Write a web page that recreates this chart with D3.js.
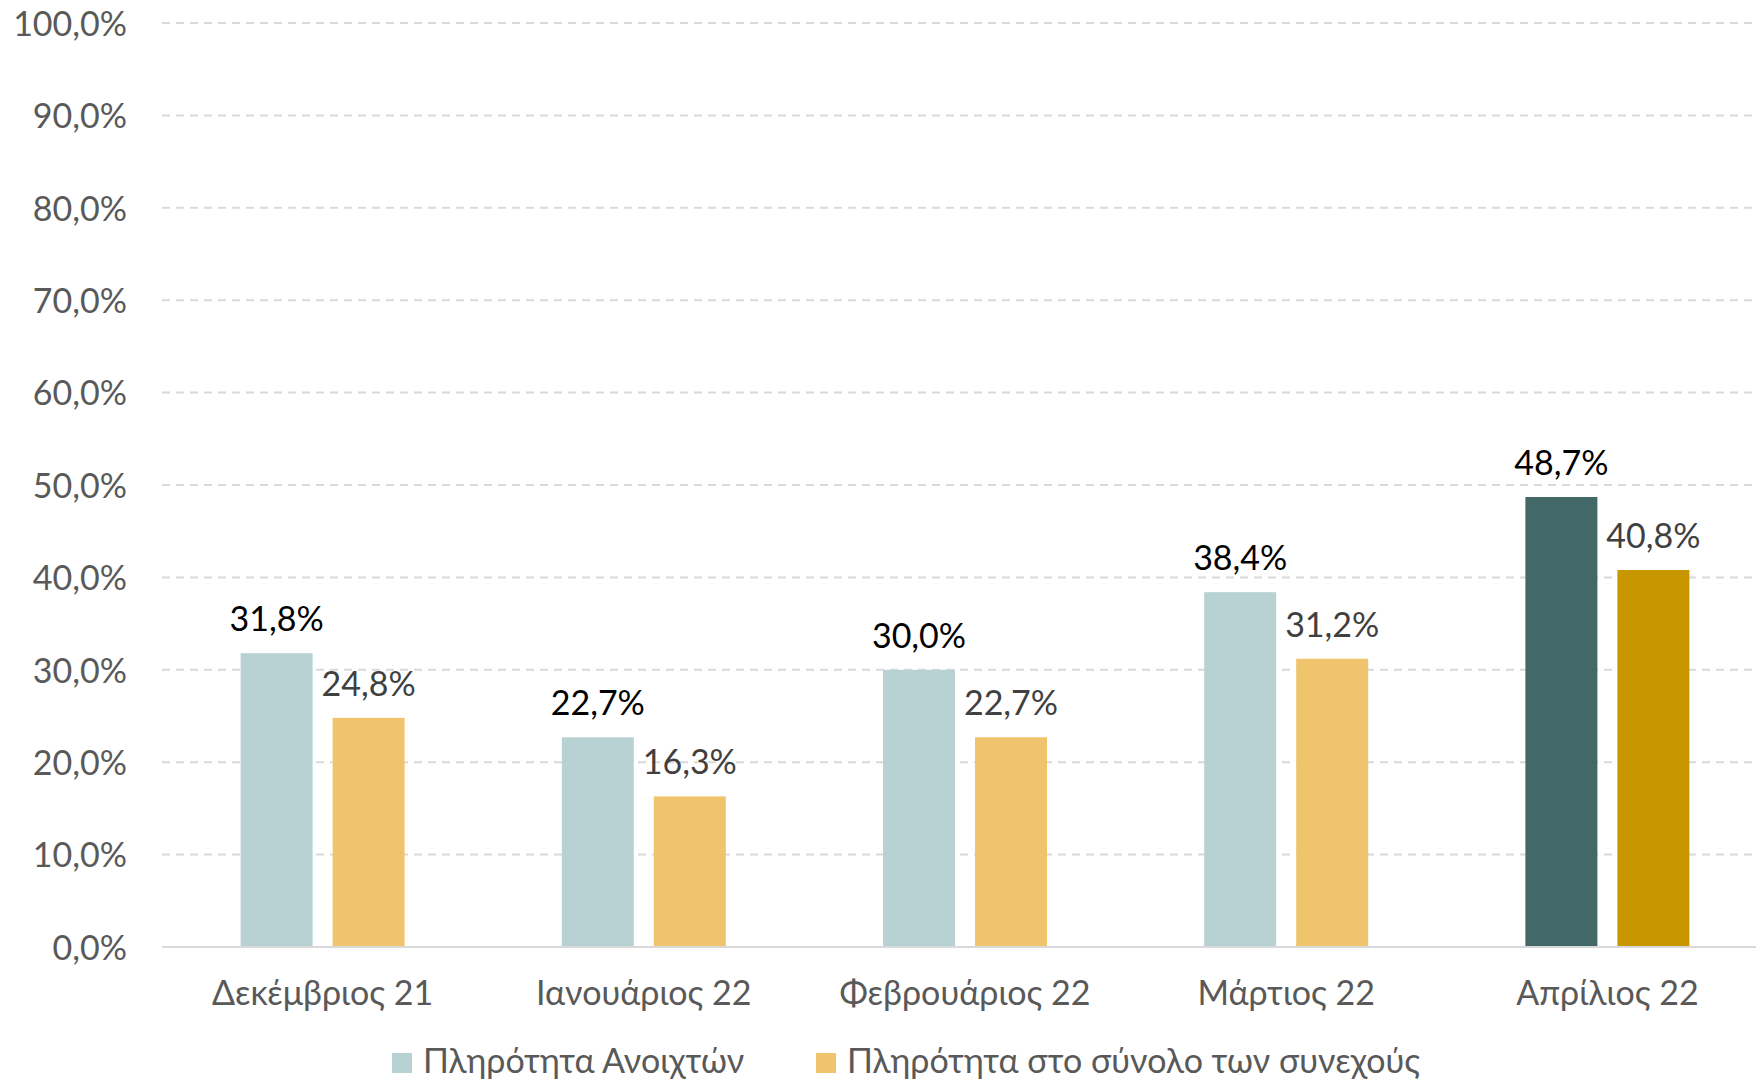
<!DOCTYPE html>
<html><head><meta charset="utf-8">
<script src="https://cdn.jsdelivr.net/npm/d3@7"></script>
<style>body{margin:0;background:#fff}svg{display:block}text{font-family:Lato,"Noto Sans",sans-serif}</style>
</head><body><svg id="c" width="1756" height="1082"></svg>
<script>
const categories = ["Δεκέμβριος 21","Ιανουάριος 22","Φεβρουάριος 22","Μάρτιος 22","Απρίλιος 22"];
const seriesNames = ["Πληρότητα Ανοιχτών","Πληρότητα στο σύνολο των συνεχούς"];
const openValues = [31.8,22.7,30.0,38.4,48.7];
const totalValues = [24.8,16.3,22.7,31.2,40.8];
const yTicks = [0,10,20,30,40,50,60,70,80,90,100];

const colorsNormal = ["#B8D1D2","#F0C36D"];
const colorsHighlight = ["#436868","#C89700"];
const labelColors = ["#000000","#404040"];

(function(){
const svg = d3.select("#c");
const pLeft = 162, pRight = 1768, pTop = 23, pBottom = 947;
const fs = 34;
const x = d3.scaleBand().domain(categories).range([pLeft, pRight]);
const y = d3.scaleLinear().domain([0,100]).range([pBottom, pTop]);
const fmt = v => d3.format(".1f")(v).replace(".", ",") + "%";

// gridlines
svg.append("g").selectAll("line").data(yTicks.filter(t=>t>0)).join("line")
  .attr("x1", pLeft).attr("x2", 1756).attr("y1", d=>y(d)).attr("y2", d=>y(d))
  .attr("stroke","#D9D9D9").attr("stroke-width",2).attr("stroke-dasharray","8,6");

// y axis labels
const yAxis = d3.axisLeft(y).tickValues(yTicks).tickFormat(fmt).tickSize(0).tickPadding(0);
const ya = svg.append("g").attr("transform","translate(127,0)").call(yAxis);
ya.select(".domain").remove();
ya.selectAll("text").attr("font-size",fs).attr("fill","#595959").attr("dy","0.36em")
  .style("font-family","Lato");

// bars
const data = categories.map((c,i)=>({cat:c, i, vals:[openValues[i], totalValues[i]]}));
const x1 = d3.scaleBand().domain([0,1]).paddingInner(20/92);
const groups = svg.append("g").selectAll("g").data(data).join("g");
groups.each(function(d){
  const cx = x(d.cat) + x.bandwidth()/2;
  x1.range([cx-82, cx+82]);
  const g = d3.select(this);
  const hl = d.i === categories.length-1;
  d.vals.forEach((v,s)=>{
    g.append("rect").attr("x", x1(s)).attr("width", x1.bandwidth())
      .attr("y", y(v)).attr("height", y(0)-y(v))
      .attr("fill", hl ? colorsHighlight[s] : colorsNormal[s]);
    g.append("text").attr("x", x1(s)+x1.bandwidth()/2).attr("y", y(v)-22)
      .attr("text-anchor","middle").attr("font-size",fs).attr("fill",labelColors[s])
      .text(fmt(v));
  });
});

// baseline
svg.append("line").attr("x1",pLeft).attr("x2",1756).attr("y1",y(0)).attr("y2",y(0))
  .attr("stroke","#D9D9D9").attr("stroke-width",2);

// x axis labels
const xAxis = d3.axisBottom(x).tickSize(0).tickPadding(0);
const xa = svg.append("g").attr("transform",`translate(0,${y(0)})`).call(xAxis);
xa.select(".domain").remove();
xa.selectAll("text").attr("font-size",fs).attr("fill","#595959").attr("dy",null).attr("y",58)
  .style("font-family","Lato");

// legend
const legendX = [392, 816];
const lg = svg.append("g").selectAll("g").data(seriesNames).join("g")
  .attr("transform",(d,i)=>`translate(${legendX[i]},1053)`);
lg.append("rect").attr("width",20).attr("height",20).attr("fill",(d,i)=>colorsNormal[i]);
lg.append("text").attr("x",31).attr("y",20).attr("font-size",fs).attr("fill","#595959").text(d=>d);
})();
</script></body></html>
